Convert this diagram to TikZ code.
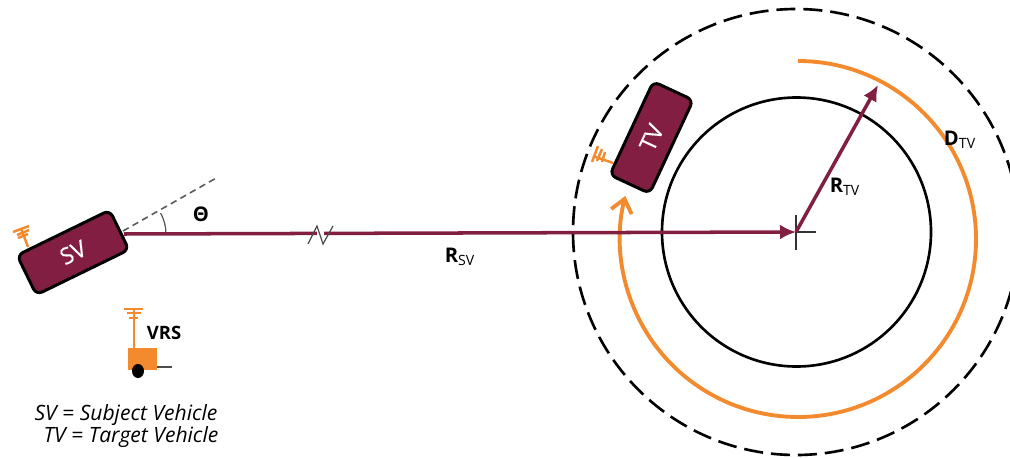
\documentclass[tikz,border=0pt]{standalone}
\usepackage{fontspec}
\setmainfont{Open Sans}
\newfontfamily\carfont[FakeBold=0.5]{Open Sans}
\usetikzlibrary{arrows.meta}
\definecolor{carplum}{RGB}{130,30,66}
\definecolor{rigorange}{RGB}{243,138,46}
\tikzset{
  car/.style={draw=black, line width=1.7pt, fill=carplum, rounded corners=0.13cm, minimum width=2.06cm, minimum height=0.88cm, text=white, font=\carfont\fontsize{13}{14}\selectfont},
  lbl/.style={inner sep=0pt, font=\fontsize{11.5}{13}\selectfont},
  legend/.style={inner sep=0pt, font=\fontsize{12}{14}\selectfont\itshape},
  rng/.style={line width=2pt, carplum, -{Latex[length=0.32cm, width=0.3cm]}},
  rig/.style={line width=1.4pt, rigorange},
}
\begin{document}
\begin{tikzpicture}[x=0.02cm, y=0.02cm]
  \clip (0,0) rectangle (1010,457);

  \coordinate (tvcentre) at (796,225);
  \coordinate (rtvtip) at (878,372);
  \coordinate (svfront) at (124,223);
  \coordinate (headingend) at (218,280);

  \draw[line width=1.5pt] (tvcentre) ++(0.5,0) circle (134.5);
  \draw[line width=1.5pt, dash pattern=on 0.38cm off 0.16cm] (tvcentre) circle (223);
  \draw[line width=2.2pt, rigorange, -{Straight Barb[length=0.26cm, width=0.42cm, line width=2.2pt]}] (798,396) arc (90:-194:178);

  \node[car, rotate=26] (sv) at (73,204.5) {SV};
  \node[car, rotate=65] (tv) at (651.5,319.5) {TV};

  \draw[line width=0.9pt, gray!70!black, dash pattern=on 0.13cm off 0.09cm] (svfront) ++(-1,3) -- (headingend);
  \draw[line width=0.7pt, gray!70!black] (166,223) arc (0:29:43);
  \draw[rng] (svfront) -- (tvcentre);
  \draw[line width=0.6pt, black!80] (tvcentre) ++(0,17) -- ++(0,-35) (tvcentre) -- ++(20,0);
  \draw[rng] (tvcentre) -- (rtvtip);

  % break in the range line
  \fill[white] (317,218) rectangle (324,228);
  \draw[line width=0.7pt, black!70] (308,213) -- (317,231) -- (323,213) -- (333,231);

  % antennas
  \draw[rig] (28,210) -- (21,229);
  \draw[rig] (13,225) -- (29,231) (17,222) -- (29,227) (18,219) -- (28,223);
  \draw[rig] (613,294) -- (593,301);
  \draw[rig] (592,295) -- (598,311) (597,296) -- (602,308) (602,295) -- (605,305);
  \draw[rig] (134,109) -- (134,148);
  \draw[rig] (124,148) -- (143,148) (127,144) -- (141,144) (129,139) -- (138,139);

  % repeater on its trailer
  \fill[rigorange] (128,87) rectangle (157,109);
  \draw[line width=0.7pt, black!70] (157,90) -- (172,90);
  \fill[black] (138,86) ellipse (6 and 7);

  \node[lbl, font=\fontsize{10.5}{12}\selectfont\bfseries] (vrs) at (164,124) {VRS};
  \node[lbl, font=\fontsize{11.5}{13}\selectfont\bfseries] (theta) at (201,243) {Θ};
  \node[lbl] (rsv) at (460,200) {\textbf{R}\textsubscript{SV}};
  \node[lbl] (rtv) at (845,270) {\textbf{R}\textsubscript{TV}};
  \node[lbl] (dtv) at (960,317) {\textbf{D}\textsubscript{TV}};
  \node[legend] (svnote) at (126,42) {SV = Subject Vehicle};
  \node[legend] (tvnote) at (131,20) {TV = Target Vehicle};
\end{tikzpicture}
\end{document}
